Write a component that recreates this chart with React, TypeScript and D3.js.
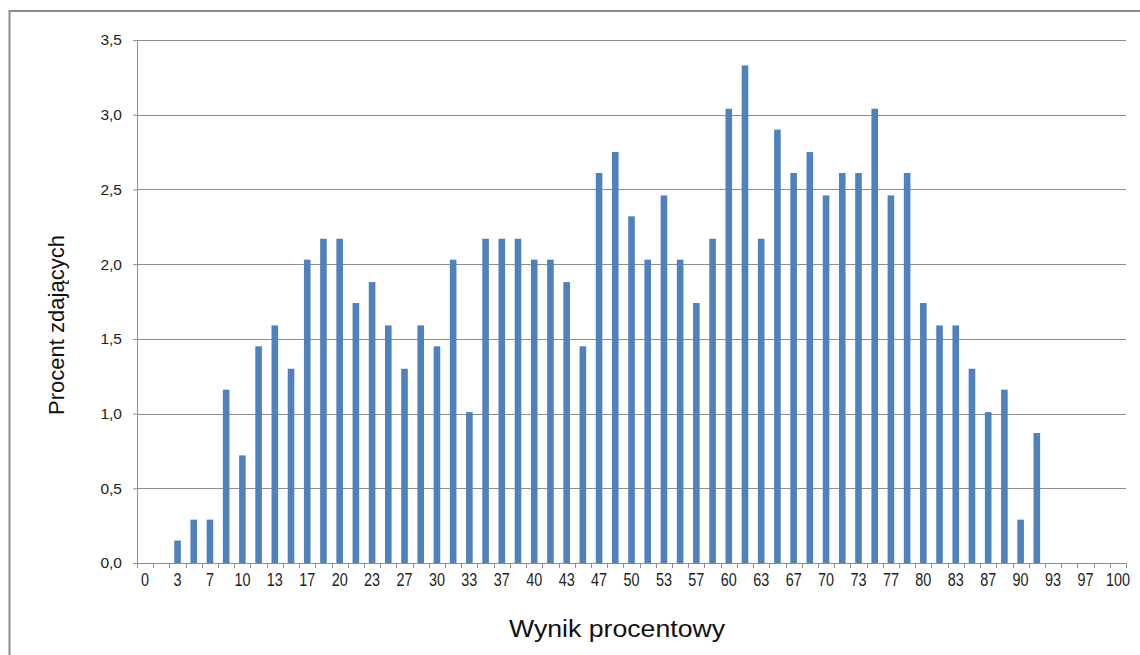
import React, { useEffect, useRef } from 'react'
import * as d3 from 'd3'

// 61 categories, step 100/60 (wynik procentowy)
const categories: number[] = d3.range(61).map((i) => (i * 100) / 60)

// Procent zdających, per category
const values: number[] = [
  0, 0, 0.15, 0.29, 0.29, 1.16, 0.72, 1.45, 1.59, 1.30,
  2.03, 2.17, 2.17, 1.74, 1.88, 1.59, 1.30, 1.59, 1.45, 2.03,
  1.01, 2.17, 2.17, 2.17, 2.03, 2.03, 1.88, 1.45, 2.61, 2.75,
  2.32, 2.03, 2.46, 2.03, 1.74, 2.17, 3.04, 3.33, 2.17, 2.90,
  2.61, 2.75, 2.46, 2.61, 2.61, 3.04, 2.46, 2.61, 1.74, 1.59,
  1.59, 1.30, 1.01, 1.16, 0.29, 0.87, 0, 0, 0, 0,
  0
]

const yTicks: number[] = [0, 0.5, 1, 1.5, 2, 2.5, 3, 3.5]

const xTitle = 'Wynik procentowy'
const yTitle = 'Procent zdających'

const WIDTH = 1140
const HEIGHT = 655
const margin = { top: 40, left: 137, right: 14, bottom: 92 }
const FONT = '"Liberation Sans", Arial, sans-serif'

const App = () => {
  const root = useRef<SVGSVGElement>(null)

  useEffect(() => {
    const svg = d3.select(root.current)
    svg.selectAll('*').remove()

    const chartWidth = WIDTH - margin.left - margin.right
    const chartHeight = HEIGHT - margin.top - margin.bottom

    // outer frame
    svg.append('rect')
      .attr('x', 9.5)
      .attr('y', 11)
      .attr('width', WIDTH)
      .attr('height', HEIGHT)
      .attr('fill', 'none')
      .attr('stroke', '#8c8c8c')
      .attr('stroke-width', 2)

    const chart = svg.append('g')
      .attr('transform', 'translate(' + margin.left + ',' + margin.top + ')')

    const xScale = d3.scaleBand<number>()
      .domain(d3.range(categories.length))
      .range([0, chartWidth])

    const barW = 6.6

    const yScale = d3.scaleLinear()
      .domain([0, 3.5])
      .range([chartHeight, 0])

    // grid
    chart.append('g')
      .selectAll('line')
      .data(yTicks.filter((d) => d > 0))
      .enter().append('line')
        .attr('x1', 0)
        .attr('x2', chartWidth)
        .attr('y1', (d) => Math.round(yScale(d)) + 0.5)
        .attr('y2', (d) => Math.round(yScale(d)) + 0.5)
        .attr('stroke', '#8e8e8e')
        .attr('stroke-width', 1)

    // bars
    chart.append('g')
      .selectAll('rect')
      .data(values.map((v, i) => ({ i, v })).filter((d) => d.v > 0))
      .enter().append('rect')
        .attr('x', (d) => (xScale(d.i) as number) + xScale.bandwidth() / 2 - barW / 2)
        .attr('width', barW)
        .attr('y', (d) => yScale(d.v))
        .attr('height', (d) => chartHeight - yScale(d.v))
        .attr('fill', '#4f81bd')

    // y axis
    const yAxis = chart.append('g')
      .call(d3.axisLeft(yScale)
        .tickValues(yTicks)
        .tickSize(4)
        .tickPadding(11)
        .tickFormat((d) => d3.format('.1f')(d as number).replace('.', ',')))
    yAxis.select('.domain').attr('stroke', '#8e8e8e').attr('d', 'M0.5,0V' + chartHeight)
    yAxis.selectAll('.tick line').attr('stroke', '#8e8e8e')
    yAxis.selectAll('text')
      .attr('font-family', FONT)
      .attr('font-size', 15.5)
      .attr('fill', '#222')

    // x axis with category-boundary ticks
    const xAxis = chart.append('g')
      .attr('transform', 'translate(0,' + chartHeight + ')')
    xAxis.append('line')
      .attr('x1', 0)
      .attr('x2', chartWidth)
      .attr('y1', 0.5)
      .attr('y2', 0.5)
      .attr('stroke', '#8e8e8e')
    xAxis.selectAll('.bound')
      .data(d3.range(categories.length + 1))
      .enter().append('line')
        .attr('class', 'bound')
        .attr('x1', (d) => Math.round(d * xScale.step()) + 0.5)
        .attr('x2', (d) => Math.round(d * xScale.step()) + 0.5)
        .attr('y1', 0)
        .attr('y2', 5)
        .attr('stroke', '#8e8e8e')
    xAxis.selectAll('.lbl')
      .data(categories.map((c, i) => ({ c, i })).filter((d) => d.i % 2 === 0))
      .enter().append('text')
        .attr('class', 'lbl')
        .attr('transform', (d) => 'translate(' + ((xScale(d.i) as number) + xScale.bandwidth() / 2) + ',23) scale(0.9,1.12)')
        .attr('text-anchor', 'middle')
        .attr('font-family', FONT)
        .attr('font-size', 16)
        .attr('fill', '#222')
        .text((d) => d3.format('.0f')(d.c))

    // titles
    svg.append('text')
      .attr('transform', 'translate(617,637) scale(1.16,1)')
      .attr('text-anchor', 'middle')
      .attr('font-family', FONT)
      .attr('font-size', 23)
      .attr('fill', '#111')
      .text(xTitle)

    svg.append('text')
      .attr('transform', 'translate(64,325) rotate(-90)')
      .attr('text-anchor', 'middle')
      .attr('font-family', FONT)
      .attr('font-size', 22)
      .attr('fill', '#111')
      .text(yTitle)
  }, [])

  return (
    <svg
      ref={root}
      width={WIDTH}
      height={HEIGHT}
      style={{ position: 'absolute', left: 0, top: 0, background: '#fff' }}
    />
  )
}

export default App
